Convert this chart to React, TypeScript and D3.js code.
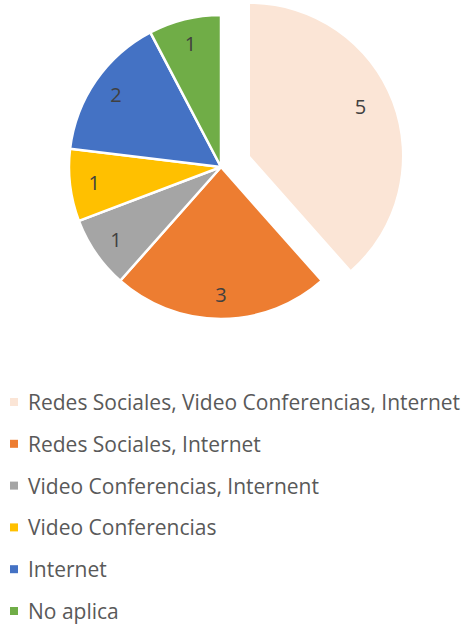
import React from "react";
import * as d3 from "d3";

const categories = [
  "Redes Sociales, Video Conferencias, Internet",
  "Redes Sociales, Internet",
  "Video Conferencias, Internent",
  "Video Conferencias",
  "Internet",
  "No aplica",
];
const values = [5, 3, 1, 1, 2, 1];
const colors = ["#FBE5D6", "#ED7D31", "#A5A5A5", "#FFC000", "#4472C4", "#70AD47"];
const exploded = [true, false, false, false, false, false];

const W = 464;
const H = 628;
const cx = 221;
const cy = 167;
const R = 152;
const explodeDist = 31;

export default function App() {
  const pie = d3.pie<number>().sort(null).value((d) => d);
  const arcs = pie(values);
  const arc = d3.arc<d3.PieArcDatum<number>>().innerRadius(0).outerRadius(R);
  const labelArc = d3.arc<d3.PieArcDatum<number>>().innerRadius(R * 0.84).outerRadius(R * 0.84);
  const legendY = d3.scalePoint<string>().domain(categories).range([402, 611]);

  return (
    <svg width={W} height={H} style={{ position: "absolute", left: 0, top: 0, background: "#fff" }}>
      <rect width={W} height={H} fill="#fff" />
      {arcs.map((a, i) => {
        const mid = (a.startAngle + a.endAngle) / 2;
        const off = exploded[i] ? explodeDist : 0;
        const dx = Math.sin(mid) * off;
        const dy = -Math.cos(mid) * off;
        const [lx, ly] = labelArc.centroid(a);
        return (
          <g key={i} transform={`translate(${cx + dx},${cy + dy})`}>
            <path d={arc(a) || ""} fill={colors[i]} stroke="#fff" strokeWidth={exploded[i] ? 0 : 2.5} />
            <text
              x={exploded[i] ? lx * 0.95 - 3 : lx}
              y={exploded[i] ? ly * 0.95 - 7 : ly}
              textAnchor="middle"
              dominantBaseline="central"
              fontFamily="'Open Sans', 'Liberation Sans', sans-serif"
              fontSize={20}
              fill="#404040"
            >
              {values[i]}
            </text>
          </g>
        );
      })}
      {categories.map((c, i) => {
        const y = legendY(c) || 0;
        return (
          <g key={c}>
            <rect x={10} y={y - 4} width={8} height={8} fill={colors[i]} />
            <text
              x={28}
              y={y}
              dominantBaseline="central"
              fontFamily="'Open Sans', 'Liberation Sans', sans-serif"
              fontSize={21}
              fill="#595959"
            >
              {c}
            </text>
          </g>
        );
      })}
    </svg>
  );
}
